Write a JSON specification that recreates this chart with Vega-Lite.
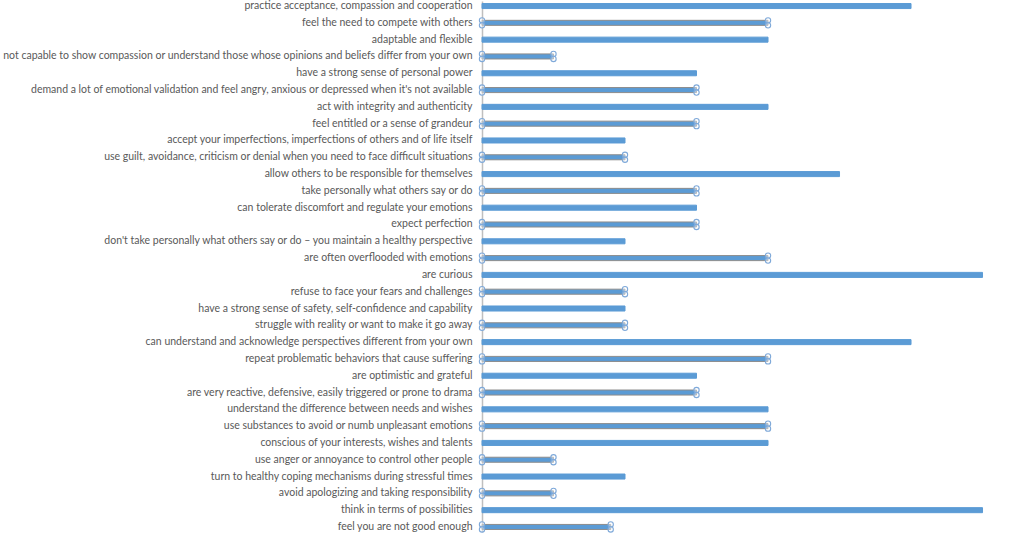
{
  "$schema": "https://vega.github.io/schema/vega-lite/v6.json",
  "width": 542,
  "height": 531,
  "autosize": "none",
  "padding": {"left": 482, "top": 1, "right": 0, "bottom": 10},
  "background": "white",
  "config": {"view": {"stroke": null}, "font": "Lato"},
  "data": {"values": [
    {"label": "practice acceptance, compassion and cooperation", "value": 6, "kind": "pos"},
    {"label": "feel the need to compete with others", "value": 4, "kind": "neg"},
    {"label": "adaptable and flexible", "value": 4, "kind": "pos"},
    {"label": "not capable to show compassion or understand those whose opinions and beliefs differ from your own", "value": 1, "kind": "neg"},
    {"label": "have a strong sense of personal power", "value": 3, "kind": "pos"},
    {"label": "demand a lot of emotional validation and feel angry, anxious or depressed when it's not available", "value": 3, "kind": "neg"},
    {"label": "act with integrity and authenticity", "value": 4, "kind": "pos"},
    {"label": "feel entitled or a sense of grandeur", "value": 3, "kind": "neg"},
    {"label": "accept your imperfections, imperfections of others and of life itself", "value": 2, "kind": "pos"},
    {"label": "use guilt, avoidance, criticism or denial when you need to face difficult situations", "value": 2, "kind": "neg"},
    {"label": "allow others to be responsible for themselves", "value": 5, "kind": "pos"},
    {"label": "take personally what others say or do", "value": 3, "kind": "neg"},
    {"label": "can tolerate discomfort and regulate your emotions", "value": 3, "kind": "pos"},
    {"label": "expect perfection", "value": 3, "kind": "neg"},
    {"label": "don't take personally what others say or do – you maintain a healthy perspective", "value": 2, "kind": "pos"},
    {"label": "are often overflooded with emotions", "value": 4, "kind": "neg"},
    {"label": "are curious", "value": 7, "kind": "pos"},
    {"label": "refuse to face your fears and challenges", "value": 2, "kind": "neg"},
    {"label": "have a strong sense of safety, self-confidence and capability", "value": 2, "kind": "pos"},
    {"label": "struggle with reality or want to make it go away", "value": 2, "kind": "neg"},
    {"label": "can understand and acknowledge perspectives different from your own", "value": 6, "kind": "pos"},
    {"label": "repeat problematic behaviors that cause suffering", "value": 4, "kind": "neg"},
    {"label": "are optimistic and grateful", "value": 3, "kind": "pos"},
    {"label": "are very reactive, defensive, easily triggered or prone to drama", "value": 3, "kind": "neg"},
    {"label": "understand the difference between needs and wishes", "value": 4, "kind": "pos"},
    {"label": "use substances to avoid or numb unpleasant emotions", "value": 4, "kind": "neg"},
    {"label": "conscious of your interests, wishes and talents", "value": 4, "kind": "pos"},
    {"label": "use anger or annoyance to control other people", "value": 1, "kind": "neg"},
    {"label": "turn to healthy coping mechanisms during stressful times", "value": 2, "kind": "pos"},
    {"label": "avoid apologizing and taking responsibility", "value": 1, "kind": "neg"},
    {"label": "think in terms of possibilities", "value": 7, "kind": "pos"},
    {"label": "feel you are not good enough", "value": 1.8, "kind": "neg"}
  ]},
  "encoding": {
    "y": {
      "field": "label", "type": "nominal", "sort": null,
      "scale": {"paddingInner": 0.7, "paddingOuter": 0.15},
      "axis": {
        "title": null, "ticks": false, "labelLimit": 0, "labelPadding": 10,
        "labelFontSize": 10.5, "labelColor": "#595959", "labelFont": "Lato",
        "domainColor": "#bfbfbf", "domainWidth": 1.5, "grid": false
      }
    }
  },
  "layer": [
    {
      "mark": {"type": "bar", "color": "#5b9bd5"},
      "encoding": {
        "x": {"field": "value", "type": "quantitative", "scale": {"domain": [0, 7.58], "nice": false}, "axis": null},
        "stroke": {"field": "kind", "type": "nominal", "scale": {"domain": ["pos", "neg"], "range": ["#5b9bd5", "#8c8c8c"]}, "legend": null},
        "strokeWidth": {"value": 1}
      }
    },
    {
      "transform": [{"filter": "datum.kind == 'neg'"}],
      "mark": {"type": "point", "shape": "circle", "size": 28, "filled": false, "fill": "white", "fillOpacity": 0.4, "stroke": "#7fa9d9", "strokeWidth": 1.1, "yOffset": -2.5},
      "encoding": {"x": {"field": "value", "type": "quantitative"}}
    },
    {
      "transform": [{"filter": "datum.kind == 'neg'"}],
      "mark": {"type": "point", "shape": "circle", "size": 28, "filled": false, "fill": "white", "fillOpacity": 0.4, "stroke": "#7fa9d9", "strokeWidth": 1.1, "yOffset": 2.5},
      "encoding": {"x": {"field": "value", "type": "quantitative"}}
    },
    {
      "transform": [{"filter": "datum.kind == 'neg'"}],
      "mark": {"type": "point", "shape": "circle", "size": 28, "filled": false, "fill": "white", "fillOpacity": 0.4, "stroke": "#7fa9d9", "strokeWidth": 1.1, "yOffset": -2.5},
      "encoding": {"x": {"datum": 0, "type": "quantitative"}}
    },
    {
      "transform": [{"filter": "datum.kind == 'neg'"}],
      "mark": {"type": "point", "shape": "circle", "size": 28, "filled": false, "fill": "white", "fillOpacity": 0.4, "stroke": "#7fa9d9", "strokeWidth": 1.1, "yOffset": 2.5},
      "encoding": {"x": {"datum": 0, "type": "quantitative"}}
    }
  ]
}
